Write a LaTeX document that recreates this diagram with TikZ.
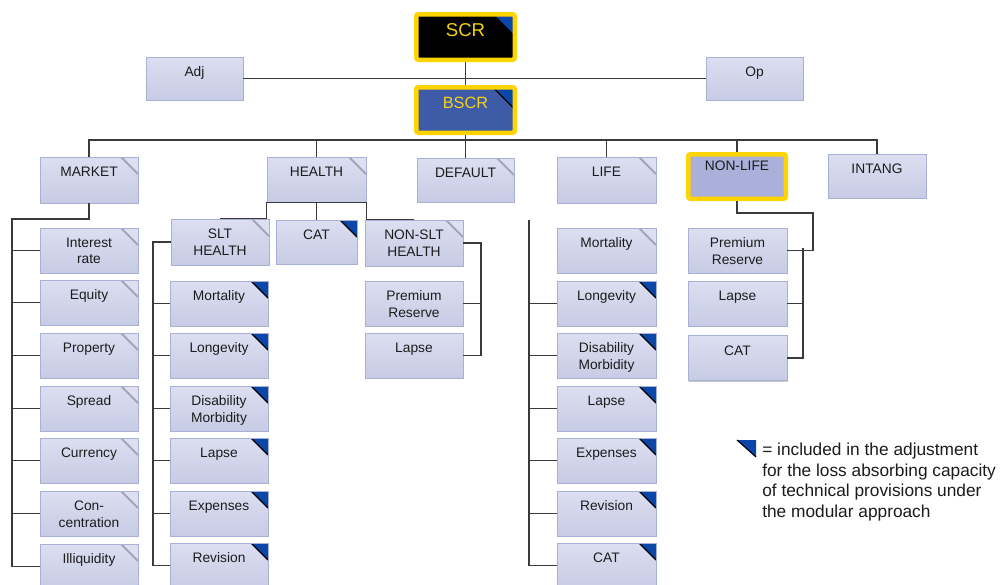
\documentclass[tikz,border=0pt]{standalone}
\usepackage{fontspec}
\setmainfont{Liberation Sans}
\usetikzlibrary{shadows}
\definecolor{celltop}{HTML}{DCDFF1}
\definecolor{cellbot}{HTML}{C7CBE4}
\definecolor{cellborder}{HTML}{A9B0D6}
\definecolor{cornerblue}{HTML}{0A47A8}
\definecolor{greyline}{HTML}{A2A5B8}
\definecolor{greyfill}{HTML}{DDE0F1}
\definecolor{linegray}{HTML}{3A3A3A}
\definecolor{textdark}{HTML}{1C1C1C}
\definecolor{gold}{HTML}{FFD400}
\definecolor{bscrblue}{HTML}{3E5BA8}
\definecolor{goldtext}{HTML}{F5D215}
\definecolor{nonlifefill}{HTML}{A9B0DA}
\def\pxu{0.025cm}
\def\cs{0.425cm}
\newcommand\cellfont{\fontsize{9.8}{11.7}\selectfont}
\newcommand\legfont{\fontsize{12.3}{14.6}\selectfont}
\tikzset{
  cell/.style={draw=cellborder, line width=0.5pt, top color=celltop, bottom color=cellbot,
    minimum width=98*\pxu, minimum height=45*\pxu, inner sep=0pt,
    drop shadow={shadow xshift=0.5pt, shadow yshift=-0.9pt, opacity=0.3, fill=black!70}},
  lbl/.style={anchor=north, yshift=-10*\pxu, align=center, inner sep=0pt, font=\cellfont, text=textdark},
  gc/.style={path picture={
      \fill[greyfill] (path picture bounding box.north east) -- ([xshift=-\cs]path picture bounding box.north east)
        -- ([yshift=-\cs]path picture bounding box.north east) -- cycle;
      \draw[greyline, line width=1.3pt] ([xshift=-\cs]path picture bounding box.north east)
        -- ([yshift=-\cs]path picture bounding box.north east);}},
  bcs/.style={path picture={
      \fill[cornerblue] (path picture bounding box.north east) -- ([xshift=-#1]path picture bounding box.north east)
        -- ([yshift=-#1]path picture bounding box.north east) -- cycle;
      \draw[black, line width=0.8pt] ([xshift=-#1]path picture bounding box.north east)
        -- ([yshift=-#1]path picture bounding box.north east);}},
  bc/.style={bcs=\cs},
  goldbox/.style={draw=gold, line width=4.5*\pxu, rounded corners=1.5pt, inner sep=0pt,
    minimum width=98.5*\pxu, minimum height=45.5*\pxu,
    drop shadow={shadow xshift=0.5pt, shadow yshift=-0.9pt, opacity=0.3, fill=black!70}},
  conn/.style={draw=linegray, line width=0.85pt},
}
\begin{document}
\begin{tikzpicture}[x=0.025cm, y=-0.025cm]
\useasboundingbox (0,0) rectangle (1000,585);
\clip (0,0) rectangle (1000,585);
\fill[white] (0,0) rectangle (1000,585);

% ---- top level
\node[goldbox, fill=black, bcs=0.55cm, label={[lbl, yshift=-1*\pxu, font=\fontsize{13.2}{15}\selectfont, text=goldtext]north:SCR}] (scr) at (465.5,37) {};
\node[goldbox, fill=bscrblue, bcs=0.55cm, label={[lbl, yshift=-1.4*\pxu, font=\fontsize{11.6}{14}\selectfont, text=goldtext]north:BSCR}] (bscr) at (465.5,110) {};
\node[cell, minimum width=97*\pxu, minimum height=43*\pxu, label={[lbl]north:Adj}] (adj) at (194.5,78.5) {};
\node[cell, minimum width=97*\pxu, minimum height=43*\pxu, label={[lbl]north:Op}] (op) at (754.5,78.5) {};

% ---- first row
\node[cell, minimum height=46*\pxu, gc, label={[lbl]north:MARKET}] (mkt) at (89,180) {};
\node[cell, minimum width=99*\pxu, gc, label={[lbl]north:HEALTH}] (hea) at (316.5,179.5) {};
\node[cell, minimum width=97*\pxu, minimum height=44*\pxu, gc, label={[lbl]north:DEFAULT}] (dft) at (465.5,180) {};
\node[cell, minimum width=99*\pxu, minimum height=46*\pxu, gc, label={[lbl]north:LIFE}] (life) at (606.5,180) {};
\node[goldbox, fill=nonlifefill, minimum width=97.5*\pxu, minimum height=44.5*\pxu, label={[lbl, yshift=1*\pxu]north:NON-LIFE}] (nonlife) at (737,176.5) {};
\node[cell, minimum height=44*\pxu, label={[lbl]north:INTANG}] (intang) at (877,176) {};

% ---- market children
\node[cell, gc, label={[lbl]north:{Interest\\rate}}] (mint) at (89,250.5) {};
\node[cell, gc, label={[lbl]north:Equity}] (meq) at (89,302.5) {};
\node[cell, gc, label={[lbl]north:Property}] (mprop) at (89,355.5) {};
\node[cell, gc, label={[lbl]north:Spread}] (mspr) at (89,408.5) {};
\node[cell, gc, label={[lbl]north:Currency}] (mcur) at (89,460.5) {};
\node[cell, gc, label={[lbl]north:{Con-\\centration}}] (mcon) at (89,513.5) {};
\node[cell, gc, label={[lbl]north:Illiquidity}] (mill) at (89,566.5) {};

% ---- health children
\node[cell, minimum height=46*\pxu, gc, label={[lbl]north:{SLT\\HEALTH}}] (slt) at (220,242) {};
\node[cell, minimum width=81*\pxu, minimum height=44*\pxu, bc, label={[lbl]north:CAT}] (hcat) at (316.5,242) {};
\node[cell, minimum height=46*\pxu, gc, label={[lbl]north:{NON-SLT\\HEALTH}}] (nonslt) at (414,243) {};

\node[cell, bc, label={[lbl]north:Mortality}] (smort) at (219,303.5) {};
\node[cell, bc, label={[lbl]north:Longevity}] (slong) at (219,355.5) {};
\node[cell, bc, label={[lbl]north:{Disability\\Morbidity}}] (sdis) at (219,408.5) {};
\node[cell, bc, label={[lbl]north:Lapse}] (slap) at (219,460.5) {};
\node[cell, bc, label={[lbl]north:Expenses}] (sexp) at (219,513.5) {};
\node[cell, bc, label={[lbl]north:Revision}] (srev) at (219,565.5) {};

\node[cell, label={[lbl]north:{Premium\\Reserve}}] (nsprem) at (414,303.5) {};
\node[cell, label={[lbl]north:Lapse}] (nslap) at (414,355.5) {};

% ---- life children
\node[cell, minimum width=99*\pxu, gc, label={[lbl]north:Mortality}] (lmort) at (606.5,250.5) {};
\node[cell, minimum width=99*\pxu, bc, label={[lbl]north:Longevity}] (llong) at (606.5,303.5) {};
\node[cell, minimum width=99*\pxu, bc, label={[lbl]north:{Disability\\Morbidity}}] (ldis) at (606.5,355.5) {};
\node[cell, minimum width=99*\pxu, bc, label={[lbl]north:Lapse}] (llap) at (606.5,408.5) {};
\node[cell, minimum width=99*\pxu, bc, label={[lbl]north:Expenses}] (lexp) at (606.5,460.5) {};
\node[cell, minimum width=99*\pxu, bc, label={[lbl]north:Revision}] (lrev) at (606.5,513.5) {};
\node[cell, minimum width=99*\pxu, bc, label={[lbl]north:CAT}] (lcat) at (606.5,565.5) {};

% ---- non-life children
\node[cell, minimum width=99*\pxu, label={[lbl]north:{Premium\\Reserve}}] (nlprem) at (737.5,250.5) {};
\node[cell, minimum width=99*\pxu, label={[lbl]north:Lapse}] (nllap) at (737.5,303.5) {};
\node[cell, minimum width=99*\pxu, label={[lbl]north:CAT}] (nlcat) at (737.5,358) {};

% ---- connectors
\coordinate (bus) at (465.5,140);
\coordinate (mkbus) at (12,219);
\coordinate (sltbus) at (153,242);
\coordinate (nsr) at (481,243);
\coordinate (lifebus) at (529,220);
\coordinate (nlc) at (813,213);
\coordinate (nlv) at (803,248);

\draw[conn] (scr.south) -- (bscr.north);
\draw[conn] (adj.east) -- (op.west);
\draw[conn] (bscr.south) -- (bus);
\draw[conn] (bus) -| (mkt.north);
\draw[conn] (bus) -| (hea.north);
\draw[conn] (bus) -- (dft.north);
\draw[conn] (bus) -| (life.north);
\draw[conn] (bus) -| (nonlife.north);
\draw[conn] (bus) -| (intang.north);

\draw[conn] (mkt.south) |- (mkbus) |- (mill.west);
\foreach \n in {mint,meq,mprop,mspr,mcur,mcon}{\draw[conn] (mkbus |- \n.west) -- (\n.west);}

\draw[conn] (hea.south west) -- (hea.south east);
\draw[conn] (hea.south west) |- (slt.north);
\draw[conn] (hea.south) -- (hcat.north);
\draw[conn] (hea.south east) |- (nonslt.north);

\draw[conn] (slt.west) -- (sltbus) |- (srev.west);
\foreach \n in {smort,slong,sdis,slap,sexp}{\draw[conn] (sltbus |- \n.west) -- (\n.west);}

\draw[conn] (nonslt.east) -- (nsr) |- (nslap.east);
\draw[conn] (nsr |- nsprem.east) -- (nsprem.east);

\draw[conn] (lifebus) |- (lcat.west);
\foreach \n in {llong,ldis,llap,lexp,lrev}{\draw[conn] (lifebus |- \n.west) -- (\n.west);}

\draw[conn] (nonlife.south) |- (nlc) |- (nlprem.east);
\draw[conn] (nlv) |- (nlcat.east);
\draw[conn] (nlv |- nllap.east) -- (nllap.east);

% ---- legend
\coordinate (legtri) at (756,440);
\fill[cornerblue] (legtri) -- ++(-19,0) -- ++(19,17) -- cycle;
\draw[black, line width=0.8pt] ([xshift=-19*\pxu]legtri) -- ([yshift=-17*\pxu]legtri);
\node[anchor=north west, align=left, inner sep=0pt, font=\legfont, text=textdark] (legend) at (762,443)
  {= included in the adjustment\\for the loss absorbing capacity\\of technical provisions under\\the modular approach};
\end{tikzpicture}
\end{document}
